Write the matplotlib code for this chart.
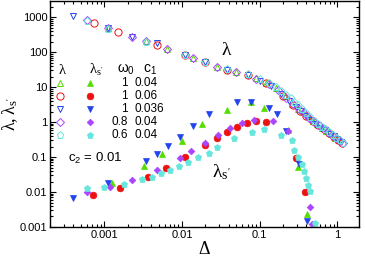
import matplotlib
matplotlib.use('Agg')
import matplotlib.pyplot as plt
import matplotlib.ticker as mticker

plt.rcParams['font.family'] = ['Liberation Sans', 'DejaVu Sans']
plt.rcParams['mathtext.default'] = 'regular'

# colores y marcadores de cada serie
colores = ['#55dd00', '#ee1111', '#2244ee', '#aa44ff', '#66e6dd']
marcas = ['^', 'o', 'v', 'D', 'p']
omega0 = ['1', '1', '1', '0.8', '0.6']
c1 = ['0.04', '0.06', '0.036', '0.04', '0.04']

# lambda (simbolos abiertos)
d_lam_g = [1.1e-3, 3.4e-3, 6.4e-3, 0.014, 0.028, 0.05, 0.09, 0.12, 0.16, 0.21, 0.26, 0.31, 0.36, 0.42, 0.48, 0.55, 0.63, 0.72, 0.82, 0.93, 1.05]
lam_g = [490, 205, 125, 68, 38, 27, 18, 13.5, 9.5, 5.5, 3.3, 2.4, 1.9, 1.45, 1.1, 0.88, 0.7, 0.56, 0.45, 0.36, 0.3]
d_lam_r = [7.4e-4, 1.5e-3, 4.8e-3, 0.011, 0.02, 0.038, 0.07, 0.12, 0.2, 0.27, 0.33, 0.4, 0.48, 0.57, 0.67, 0.78, 0.9, 1.03, 1.16]
lam_r = [675, 370, 165, 82, 52, 31, 22, 13, 5.6, 3.0, 2.1, 1.45, 1.05, 0.8, 0.62, 0.49, 0.38, 0.3, 0.25]
d_lam_b = [3.9e-4, 1.1e-3, 2.3e-3, 4.8e-3, 0.011, 0.02, 0.038, 0.07, 0.1, 0.14, 0.19, 0.24, 0.29, 0.34, 0.4, 0.46, 0.53, 0.61, 0.7, 0.8, 0.9, 1.0, 1.1]
lam_b = [1070, 480, 270, 180, 82, 52, 31, 22, 15, 11, 6.5, 4.0, 2.7, 2.1, 1.5, 1.15, 0.88, 0.7, 0.58, 0.47, 0.39, 0.32, 0.27]
d_lam_p = [6e-4, 1.1e-3, 2.3e-3, 3.4e-3, 6.4e-3, 0.014, 0.028, 0.05, 0.09, 0.13, 0.17, 0.22, 0.27, 0.32, 0.37, 0.43, 0.5, 0.58, 0.66, 0.75, 0.85, 0.95, 1.07, 1.18]
lam_p = [820, 480, 270, 205, 122, 67, 37, 27, 17, 12.5, 8.5, 5.0, 3.2, 2.3, 1.85, 1.35, 1.0, 0.8, 0.66, 0.52, 0.42, 0.35, 0.29, 0.25]
d_lam_c = [6e-4, 1.1e-3, 3.4e-3, 0.011, 0.02, 0.038, 0.07, 0.1, 0.13, 0.16, 0.19, 0.22, 0.25, 0.28, 0.31, 0.35, 0.39, 0.44, 0.5, 0.56, 0.63, 0.7, 0.78, 0.87, 0.97, 1.08, 1.2]
lam_c = [800, 470, 200, 84, 53, 32, 23, 17, 13, 10, 8, 6, 4.8, 3.8, 3.0, 2.3, 1.8, 1.4, 1.1, 0.9, 0.74, 0.62, 0.52, 0.43, 0.36, 0.3, 0.26]

# lambda_s' (simbolos llenos)
d_ls_g = [1.26e-3, 3.2e-3, 5.5e-3, 0.01, 0.018, 0.038, 0.077, 0.115, 0.23, 0.31, 0.41]
ls_g = [0.018, 0.055, 0.12, 0.29, 0.88, 2.2, 3.7, 2.5, 0.59, 0.052, 0.0024]
d_ls_r = [7.2e-4, 1.6e-3, 3.6e-3, 6.2e-3, 0.011, 0.02, 0.028, 0.038, 0.051, 0.068, 0.091, 0.12, 0.29, 0.38]
ls_r = [0.0082, 0.013, 0.027, 0.049, 0.1, 0.22, 0.35, 0.52, 0.72, 0.94, 1.07, 1.0, 0.094, 0.01]
d_ls_b = [3.9e-4, 1.1e-3, 3.4e-3, 4.8e-3, 6.6e-3, 9.4e-3, 0.014, 0.022, 0.051, 0.077, 0.13, 0.165, 0.22, 0.32, 0.41]
ls_b = [0.0067, 0.018, 0.077, 0.12, 0.21, 0.37, 0.77, 1.7, 3.7, 3.7, 2.5, 1.7, 0.55, 0.063, 0.0015]
d_ls_p = [6e-4, 1.2e-3, 2.3e-3, 4.8e-3, 9.4e-3, 0.013, 0.02, 0.029, 0.041, 0.06, 0.084, 0.147, 0.23, 0.45, 0.47]
ls_p = [0.01, 0.014, 0.022, 0.043, 0.094, 0.15, 0.25, 0.43, 0.67, 0.94, 1.14, 1.07, 0.55, 0.0037, 0.0012]
d_ls_c = [6e-4, 1.0e-3, 1.8e-3, 3.1e-3, 4.1e-3, 5.4e-3, 7e-3, 9.2e-3, 0.012, 0.016, 0.022, 0.028, 0.047, 0.079, 0.115, 0.19, 0.26, 0.28, 0.31, 0.35, 0.37, 0.4, 0.42, 0.44, 0.51]
ls_c = [0.013, 0.014, 0.017, 0.024, 0.027, 0.035, 0.043, 0.055, 0.072, 0.1, 0.13, 0.19, 0.35, 0.52, 0.63, 0.43, 0.3, 0.16, 0.1, 0.063, 0.04, 0.025, 0.016, 0.011, 0.0013]

abiertos = [(d_lam_g, lam_g), (d_lam_r, lam_r), (d_lam_b, lam_b), (d_lam_p, lam_p), (d_lam_c, lam_c)]
llenos = [(d_ls_g, ls_g), (d_ls_r, ls_r), (d_ls_b, ls_b), (d_ls_p, ls_p), (d_ls_c, ls_c)]

fig = plt.figure(figsize=(3.65, 2.68), dpi=100)
ax = fig.add_axes([50/365, 1-227/268, 309/365, 226/268])

tam = {'^': 4.8, 'o': 5.2, 'v': 4.8, 'D': 3.8, 'p': 5.2}
for (x, y), col, m in zip(abiertos, colores, marcas):
    ax.plot(x, y, ls='none', marker=m, ms=tam[m], mfc='none', mec=col, mew=0.7)
for (x, y), col, m in zip(llenos, colores, marcas):
    ax.plot(x, y, ls='none', marker=m, ms=tam[m]-0.4, mfc=col, mec=col, mew=0.5)

ax.set_xscale('log')
ax.set_yscale('log')
ax.set_xlim(2e-4, 1.9)
ax.set_ylim(0.001, 2900)
ax.set_yticks([0.001, 0.01, 0.1, 1, 10, 100, 1000])
ax.set_xticks([0.001, 0.01, 0.1, 1])
fmt = mticker.FuncFormatter(lambda v, p: ('%g' % v))
ax.xaxis.set_major_formatter(fmt)
ax.yaxis.set_major_formatter(fmt)
ax.xaxis.set_minor_formatter(mticker.NullFormatter())
ax.yaxis.set_minor_formatter(mticker.NullFormatter())
ax.tick_params(which='both', direction='in', top=True, right=True, labelsize=8, width=0.8)
ax.tick_params(which='major', length=4, pad=2)
ax.tick_params(which='minor', length=2)
for s in ax.spines.values():
    s.set_linewidth(1.0)

ax.set_xlabel(r'$\Delta$', fontsize=13, family='Liberation Serif', labelpad=1)
ax.set_ylabel(r"$\lambda, \lambda_{s'}$", fontsize=13, family='Liberation Serif', labelpad=0)

# leyenda hecha a mano
ta = ax.transAxes
ax.text(0.039, 0.695, r'$\lambda$', transform=ta, fontsize=10.5, family='Liberation Serif', ha='center', va='center')
ax.text(0.15, 0.695, r"$\lambda_{s'}$", transform=ta, fontsize=10.5, family='Liberation Serif', ha='center', va='center')
ax.text(0.246, 0.695, r'$\omega_0$', transform=ta, fontsize=10, ha='center', va='center')
ax.text(0.324, 0.695, r'$c_1$', transform=ta, fontsize=10, ha='center', va='center')
filas = [0.637, 0.58, 0.522, 0.465, 0.407]
for yy, col, m, w, c in zip(filas, colores, marcas, omega0, c1):
    ax.plot([0.032], [yy], transform=ta, marker=m, ms=tam[m], mfc='none', mec=col, mew=0.7, clip_on=False)
    ax.plot([0.129], [yy], transform=ta, marker=m, ms=tam[m]-0.4, mfc=col, mec=col, mew=0.5, clip_on=False)
    ax.text(0.252, yy, w, transform=ta, fontsize=8.5, ha='right', va='center')
    ax.text(0.275, yy, c, transform=ta, fontsize=8.5, ha='left', va='center')

ax.text(0.058, 0.305, r'$c_2$ = 0.01', transform=ta, fontsize=9.5, ha='left', va='center')
ax.text(0.573, 0.783, r'$\lambda$', transform=ta, fontsize=14, family='Liberation Serif', ha='center', va='center')
ax.text(0.524, 0.243, r"$\lambda_{s'}$", transform=ta, fontsize=14, family='Liberation Serif', ha='left', va='center')

fig.savefig('out.png', dpi=100)
